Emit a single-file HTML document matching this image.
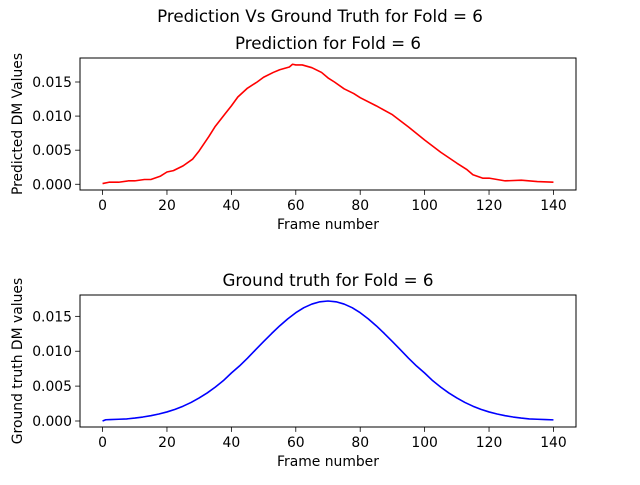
<!DOCTYPE html>
<html><head><meta charset="utf-8"><style>
body{margin:0;background:#fff;font-family:"Liberation Sans","DejaVu Sans",sans-serif;}
svg text{font-family:"DejaVu Sans","Liberation Sans",sans-serif;fill:#000;}
</style></head><body>
<svg id="fig" width="640" height="480" viewBox="0 0 640 480" xmlns="http://www.w3.org/2000/svg">
<rect width="640" height="480" fill="#fff"/>
<text x="320" y="22" font-size="16.7" text-anchor="middle">Prediction Vs Ground Truth for Fold = 6</text>
</svg>
<script>
const predFrames=[0,2,5,8,10,13,15,18,20,22,25,28,30,33,35,38,40,42,45,48,50,53,55,58,59,60,62,65,68,70,72,75,78,80,85,90,95,100,105,110,113,115,118,120,125,130,135,140];
const predValues=[0.0001,0.0003,0.0003,0.0005,0.0005,0.0007,0.0007,0.0012,0.0018,0.0020,0.0027,0.0037,0.0049,0.0070,0.0085,0.0103,0.0115,0.0128,0.0141,0.0150,0.0157,0.0164,0.0168,0.0172,0.0176,0.0175,0.0175,0.0171,0.0164,0.0156,0.0150,0.0140,0.0133,0.0127,0.0115,0.0102,0.0084,0.0065,0.0047,0.0031,0.0022,0.0014,0.0009,0.0009,0.0005,0.0006,0.0004,0.0003];
const gtFrames=[0,1,2.5,5,7.5,10,12.5,15,17.5,20,22.5,25,27.5,30,32.5,35,37.5,40,42.5,45,47.5,50,52.5,55,57.5,60,62.5,65,67.5,70,72.5,75,77.5,80,82.5,85,87.5,90,92.5,95,97.5,100,102.5,105,107.5,110,112.5,115,117.5,120,122.5,125,127.5,130,132.5,135,137.5,140];
const gtValues=[0.0000,0.00018,0.00020,0.00025,0.00030,0.00042,0.00057,0.00076,0.00100,0.0013,0.00167,0.00212,0.00266,0.0033,0.00402,0.00485,0.00578,0.00688,0.00788,0.00901,0.0102,0.01138,0.01254,0.01364,0.01464,0.01552,0.01624,0.01676,0.01709,0.0172,0.01709,0.01676,0.01624,0.01552,0.01464,0.01364,0.01254,0.01138,0.0102,0.00901,0.00788,0.00688,0.00578,0.00485,0.00402,0.0033,0.00266,0.00212,0.00167,0.0013,0.00100,0.00076,0.00057,0.00042,0.00030,0.00025,0.00020,0.00016];
const xTicks=[0,20,40,60,80,100,120,140];
const yTicks=[0,0.005,0.010,0.015];
const yTickLabels=["0.000","0.005","0.010","0.015"];
const NS="http://www.w3.org/2000/svg";
const svg=document.getElementById('fig');
function mk(tag,attrs,parent){const e=document.createElementNS(NS,tag);for(const k in attrs)e.setAttribute(k,attrs[k]);(parent||svg).appendChild(e);return e;}
function panel(key,top,bottom,ymin,ymax,title,ylabel,xs,ys,color){
  const L=80,R=576,xmin=-7,xmax=147;
  const sx=v=>L+(v-xmin)/(xmax-xmin)*(R-L);
  const sy=v=>bottom-(v-ymin)/(ymax-ymin)*(bottom-top);
  const g=mk('g',{});
  
  
  let d='';xs.forEach((x,i)=>{d+=(i?'L':'M')+sx(x).toFixed(2)+','+sy(ys[i]).toFixed(2);});
  const p=mk('path',{d:d,fill:'none',stroke:color,'stroke-width':1.6,'stroke-linejoin':'round'},g);
  
  
  const fr=mk('rect',{x:L,y:top,width:R-L,height:bottom-top,fill:'none',stroke:'#000','stroke-width':1},g);
  
  
  xTicks.forEach(t=>{const x=sx(t);
    mk('line',{x1:x,x2:x,y1:bottom,y2:bottom+4.9,stroke:'#000','stroke-width':0.8},g);
    const tx=mk('text',{x:x,y:bottom+20,'font-size':13.9,'text-anchor':'middle'},g);tx.textContent=t;
    
    });
  yTicks.forEach((t,i)=>{const y=sy(t);
    mk('line',{x1:L,x2:L-4.9,y1:y,y2:y,stroke:'#000','stroke-width':0.8},g);
    const tx=mk('text',{x:L-8,y:y+5,'font-size':13.9,'text-anchor':'end'},g);tx.textContent=yTickLabels[i];
    
    });
  const tt=mk('text',{x:(L+R)/2,y:top-9,'font-size':16.7,'text-anchor':'middle'},g);tt.textContent=title;
  
  
  const xl=mk('text',{x:(L+R)/2,y:bottom+39,'font-size':13.9,'text-anchor':'middle'},g);xl.textContent='Frame number';
  
  
  const cy=(top+bottom)/2;
  const yl=mk('text',{x:22,y:cy,'font-size':13.9,'text-anchor':'middle',transform:'rotate(-90 22 '+cy+')'},g);yl.textContent=ylabel;
  
  
}
panel('prediction',58,190,-0.00084,0.01852,'Prediction for Fold = 6','Predicted DM Values',predFrames,predValues,'#ff0000');
panel('ground-truth',295,427,-0.00086,0.01806,'Ground truth for Fold = 6','Ground truth DM values',gtFrames,gtValues,'#0000ff');
</script>
</body></html>
